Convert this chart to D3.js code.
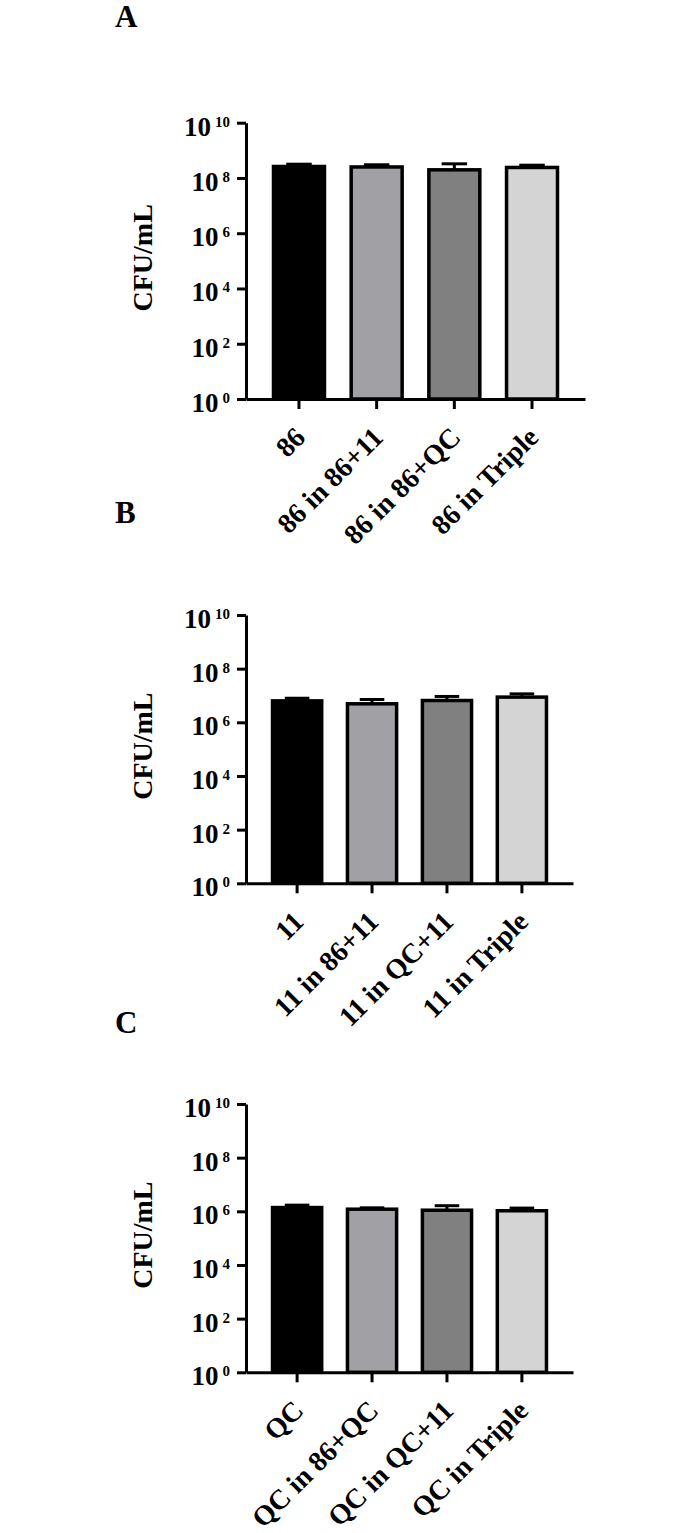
<!DOCTYPE html>
<html>
<head>
<meta charset="utf-8">
<script src="https://cdn.jsdelivr.net/npm/d3@7"></script>
<style>
  body { margin: 0; background: #fff; }
  svg { display: block; }
  text { font-family: "Liberation Serif", "Times New Roman", serif; font-weight: bold; fill: #000; }
</style>
</head>
<body>
<div id="root"></div>
<script>
// data (CFU/mL, mean and SD)
const labelsA = ['86', '86 in 86+11', '86 in 86+QC', '86 in Triple'];
const meansA = [2.6e8, 2.5e8, 1.97e8, 2.4e8];
const sdA = [0.55e8, 0.5e8, 1.28e8, 0.5e8];

const labelsB = ['11', '11 in 86+11', '11 in QC+11', '11 in Triple'];
const meansB = [6.3e6, 4.9e6, 6.5e6, 8.7e6];
const sdB = [1.6e6, 2.2e6, 2.7e6, 2.8e6];

const labelsC = ['QC', 'QC in 86+QC', 'QC in QC+11', 'QC in Triple'];
const meansC = [1.38e6, 1.2e6, 1.1e6, 1.05e6];
const sdC = [0.32e6, 0.15e6, 0.52e6, 0.27e6];

const yTickExps = [0, 2, 4, 6, 8, 10];
const panelLetters = ['A', 'B', 'C'];
const barColors = ['#000000', '#a1a1a5', '#808080', '#d4d4d4'];

const config = {
  width: 700,
  height: 1533,
  axisX: 246
};

// per-panel frame: y of 10^0, y of 10^10, right end of x axis, letter baseline
const panels = [
  {letter: panelLetters[0], labels: labelsA, means: meansA, sd: sdA, y0: 399, y1: 122.7, xEnd: 585, letterY: 27},
  {letter: panelLetters[1], labels: labelsB, means: meansB, sd: sdB, y0: 883.3, y1: 615, xEnd: 573, letterY: 523},
  {letter: panelLetters[2], labels: labelsC, means: meansC, sd: sdC, y0: 1372.3, y1: 1104, xEnd: 573, letterY: 1033}
];

const chart = d3.select('#root')
  .append('svg:svg')
  .attr('width', config.width)
  .attr('height', config.height);

panels.forEach(p => {
  const g = chart.append('svg:g');

  const x = d3.scaleBand()
    .domain(p.labels)
    .range([config.axisX, p.xEnd])
    .paddingInner(0.344)
    .paddingOuter(0.354);

  const y = d3.scaleLog()
    .domain([1, 1e10])
    .range([p.y0, p.y1]);

  // bars
  g.selectAll('.bar')
    .data(p.labels)
    .enter()
      .append('svg:rect')
      .attr('x', d => x(d))
      .attr('width', x.bandwidth())
      .attr('y', (d, i) => y(p.means[i]))
      .attr('height', (d, i) => y(1) - y(p.means[i]))
      .attr('fill', (d, i) => barColors[i])
      .attr('stroke', '#000')
      .attr('stroke-width', 3.5);

  // upper error bars
  const capW = x.bandwidth() / 2;
  p.labels.forEach((d, i) => {
    const cx = x(d) + x.bandwidth() / 2;
    const top = y(p.means[i] + p.sd[i]);
    g.append('svg:line')
      .attr('x1', cx).attr('x2', cx)
      .attr('y1', y(p.means[i])).attr('y2', top)
      .attr('stroke', '#000').attr('stroke-width', 3);
    g.append('svg:line')
      .attr('x1', cx - capW / 2).attr('x2', cx + capW / 2)
      .attr('y1', top).attr('y2', top)
      .attr('stroke', '#000').attr('stroke-width', 3);
  });

  // y axis
  const yAxis = g.append('svg:g')
    .attr('transform', `translate(${config.axisX},0)`)
    .call(d3.axisLeft(y)
      .tickValues(yTickExps.map(e => Math.pow(10, e)))
      .tickSize(9)
      .tickSizeOuter(0)
      .tickFormat(() => ''));
  yAxis.selectAll('path, line').attr('stroke', '#000').attr('stroke-width', 3);

  // 10 with a superscript exponent, right aligned as one chunk
  yAxis.selectAll('.tick').each(function(d) {
    const t = d3.select(this).append('svg:text')
      .attr('x', -16)
      .attr('y', 12.5)
      .attr('font-size', 27)
      .attr('text-anchor', 'end');
    t.append('tspan')
      .text('10');
    t.append('tspan')
      .attr('dx', 4)
      .attr('dy', -9)
      .attr('font-size', 15)
      .text(Math.round(Math.log10(d)));
  });

  // x axis
  const xAxis = g.append('svg:g')
    .attr('transform', `translate(0,${p.y0})`)
    .call(d3.axisBottom(x)
      .tickSize(10)
      .tickSizeOuter(0)
      .tickFormat(() => ''));
  xAxis.selectAll('path, line').attr('stroke', '#000').attr('stroke-width', 3);

  xAxis.selectAll('.tick')
    .append('svg:text')
    .attr('transform', 'translate(8,40) rotate(-45)')
    .attr('text-anchor', 'end')
    .attr('font-size', 28)
    .text(d => d);

  // axis title
  g.append('svg:text')
    .attr('transform', `translate(152,${(p.y0 + p.y1) / 2 - 3}) rotate(-90)`)
    .attr('text-anchor', 'middle')
    .attr('font-size', 28)
    .text('CFU/mL');

  // panel letter
  g.append('svg:text')
    .attr('x', 115)
    .attr('y', p.letterY)
    .attr('font-size', 31)
    .text(p.letter);
});
</script>
</body>
</html>
